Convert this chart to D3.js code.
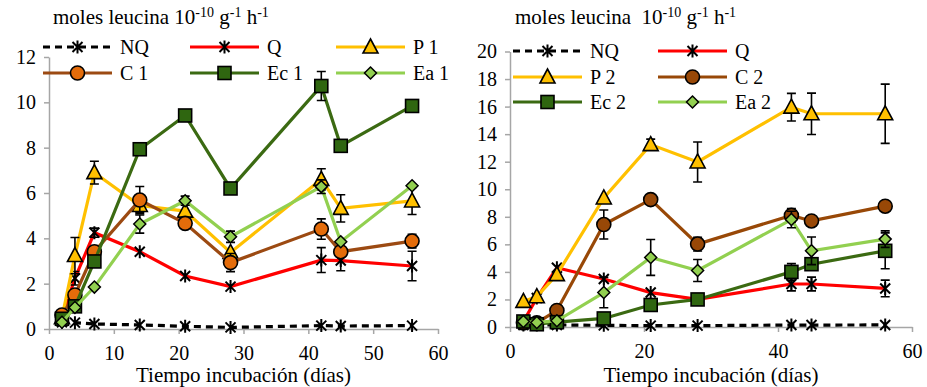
<!DOCTYPE html>
<html><head><meta charset="utf-8">
<script src="https://cdn.jsdelivr.net/npm/d3@7"></script>
<style>body{margin:0;background:#fff}svg{display:block}</style>
</head><body><svg id="c" width="927" height="387"></svg>
<script>
const days = [2,4,7,14,21,28,42,45,56];
const xTicks = [0,10,20,30,40,50,60];
const xTicksR = [0,20,40,60];
const yTicksL = [0,2,4,6,8,10,12];
const yTicksR = [0,2,4,6,8,10,12,14,16,18,20];

// left panel
const NQ1 = [0.30,0.28,0.22,0.18,0.12,0.07,0.15,0.13,0.15];
const Q1 = [0.50,2.24,4.25,3.41,2.34,1.87,3.04,3.02,2.78];
const Q1err = [0,0.3,0.2,0,0,0,0.55,0.45,0.65];
const P1 = [0.50,3.24,6.90,5.45,5.20,3.38,6.60,5.32,5.65];
const P1err = [0,0.8,0.5,0.3,0,0,0.47,0.6,0.6];
const C1 = [0.62,1.50,3.41,5.69,4.66,2.93,4.41,3.41,3.88];
const C1err = [0,0,0,0.6,0,0.4,0.45,0,0.3];
const Ec1 = [0.45,1.00,2.98,7.93,9.42,6.20,10.72,8.08,9.84];
const Ec1err = [0,0,0,0,0,0,0.64,0,0];
const Ea1 = [0.30,0.95,1.85,4.63,5.66,4.07,6.28,3.85,6.32];
const Ea1err = [0,0,0,0.4,0.2,0.25,0.3,0,0];

// right panel
const NQ2 = [0.15,0.15,0.15,0.12,0.10,0.10,0.14,0.14,0.15];
const Q2 = [0.40,2.10,4.30,3.48,2.50,2.00,3.12,3.12,2.80];
const Q2err = [0,0,0,0,0,0,0.5,0.5,0.6];
const P2 = [1.86,2.20,3.80,9.37,13.24,11.98,15.96,15.48,15.48];
const P2err = [0,0,0,0,0.4,1.45,1.0,1.5,2.15];
const C2 = [0.30,0.30,1.20,7.44,9.25,6.02,8.10,7.70,8.77];
const C2err = [0,0,0,1.05,0,0.5,0.5,0,0];
const Ec2 = [0.40,0.20,0.35,0.62,1.60,2.00,4.00,4.56,5.53];
const Ec2err = [0,0,0,0,0,0,0.6,0,1.3];
const Ea2 = [0.40,0.33,0.45,2.50,5.05,4.10,7.80,5.53,6.38];
const Ea2err = [0,0,0,1.1,1.3,0.8,0.6,1.0,0.6];

const FONT = "font-family:'Liberation Serif','DejaVu Serif','Times New Roman',serif";
const svg = d3.select("#c");

const styles = {
  NQ:{line:"#000",fill:"#000",marker:"star",dash:"7,5"},
  Q:{line:"#ff0000",fill:"#000",marker:"star"},
  P:{line:"#ffc000",fill:"#ffc000",marker:"tri"},
  C1:{line:"#9c4a12",fill:"#e46c0a",marker:"circ"},
  C2:{line:"#984807",fill:"#984807",marker:"circ"},
  Ec:{line:"#3b6a12",fill:"#2f6610",marker:"sq"},
  Ea:{line:"#92d050",fill:"#92d050",marker:"dia"}
};

function drawMarker(g, type, x, y, fill){
  if(type==="star"){
    g.append("path").attr("d",`M${x-5},${y-5}L${x+5},${y+5}M${x-5},${y+5}L${x+5},${y-5}M${x},${y-6.5}L${x},${y+6.5}`)
     .attr("stroke","#000").attr("stroke-width",2).attr("fill","none");
  } else if(type==="tri"){
    g.append("path").attr("d",`M${x},${y-8}L${x+7.5},${y+6}L${x-7.5},${y+6}Z`)
     .attr("fill",fill).attr("stroke","#000").attr("stroke-width",1.6);
  } else if(type==="circ"){
    g.append("circle").attr("cx",x).attr("cy",y).attr("r",7)
     .attr("fill",fill).attr("stroke","#000").attr("stroke-width",1.6);
  } else if(type==="sq"){
    g.append("rect").attr("x",x-6.5).attr("y",y-6.5).attr("width",13).attr("height",13)
     .attr("fill",fill).attr("stroke","#000").attr("stroke-width",1.6);
  } else if(type==="dia"){
    g.append("path").attr("d",`M${x},${y-6}L${x+6},${y}L${x},${y+6}L${x-6},${y}Z`)
     .attr("fill",fill).attr("stroke","#000").attr("stroke-width",1.5);
  }
}

function panel(cfg){
  const x = d3.scaleLinear().domain([0,60]).range(cfg.xr);
  const y = d3.scaleLinear().domain([0,cfg.ymax]).range(cfg.yr);
  const g = svg.append("g");
  const ya = g.append("g").attr("transform",`translate(${cfg.xr[0]},0)`)
    .call(d3.axisLeft(y).tickValues(cfg.yt).tickSize(5).tickSizeOuter(0).tickPadding(8));
  const xa = g.append("g").attr("transform",`translate(0,${cfg.yr[0]})`)
    .call(d3.axisBottom(x).tickValues(cfg.xt).tickSize(5).tickSizeOuter(0).tickPadding(8));
  [ya,xa].forEach(a=>{
    a.attr("font-family",null).attr("font-size",null);
    a.selectAll("path,line").attr("stroke","#a6a6a6").attr("stroke-width",1.5);
    a.selectAll("text").attr("style",FONT+";font-size:20px").attr("fill","#000");
  });
  xa.selectAll("text").attr("dy","0.9em");
  g.append("text").attr("x",(cfg.xr[0]+cfg.xr[1])/2).attr("y",382).attr("text-anchor","middle")
    .attr("style",FONT+";font-size:21px").text("Tiempo incubación (días)");
  // title
  const t = g.append("text").attr("x",cfg.tx).attr("y",24).attr("style",FONT+";font-size:21px");
  t.append("tspan").text(cfg.titleA);
  t.append("tspan").attr("style","font-size:14px").attr("dy",-7).text("-10");
  t.append("tspan").attr("dy",7).text(" g");
  t.append("tspan").attr("style","font-size:14px").attr("dy",-7).text("-1");
  t.append("tspan").attr("dy",7).text(" h");
  t.append("tspan").attr("style","font-size:14px").attr("dy",-7).text("-1");

  const line = d3.line().x((d,i)=>x(days[i])).y(d=>y(d));
  cfg.series.forEach(s=>{
    const st = styles[s.style];
    const sg = g.append("g");
    sg.append("path").datum(s.v).attr("d",line).attr("fill","none")
      .attr("stroke",st.line).attr("stroke-width",3.2)
      .attr("stroke-dasharray",st.dash||null);
    if(s.e){
      s.e.forEach((e,i)=>{
        if(!e) return;
        const cx = x(days[i]), y1 = y(s.v[i]-e), y2 = y(s.v[i]+e);
        sg.append("path").attr("d",`M${cx},${y1}L${cx},${y2}M${cx-4.5},${y1}L${cx+4.5},${y1}M${cx-4.5},${y2}L${cx+4.5},${y2}`)
          .attr("stroke","#000").attr("stroke-width",1.6).attr("fill","none");
      });
    }
    s.v.forEach((v,i)=>drawMarker(sg,st.marker,x(days[i]),y(v),st.fill));
  });
  // legend
  cfg.series.forEach((s,k)=>{
    const st = styles[s.style];
    const col = k % cfg.ncol, row = Math.floor(k / cfg.ncol);
    const lx = cfg.lx[col], ly = cfg.ly[row];
    const lg = g.append("g");
    lg.append("line").attr("x1",lx).attr("x2",lx+69).attr("y1",ly).attr("y2",ly)
      .attr("stroke",st.line).attr("stroke-width",3.2).attr("stroke-dasharray",st.dash||null);
    drawMarker(lg,st.marker,lx+34.5,ly,st.fill);
    lg.append("text").attr("x",lx+77).attr("y",ly).attr("dy","0.35em")
      .attr("style",FONT+";font-size:20px").text(s.name);
  });
}

panel({
  xr:[49,438], yr:[329,57], ymax:12, yt:yTicksL, xt:xTicks, tx:53,
  titleA:"moles leucina 10",
  ncol:3, lx:[43,190,336], ly:[47,73],
  series:[
    {name:"NQ",style:"NQ",v:NQ1},
    {name:"Q",style:"Q",v:Q1,e:Q1err},
    {name:"P 1",style:"P",v:P1,e:P1err},
    {name:"C 1",style:"C1",v:C1,e:C1err},
    {name:"Ec 1",style:"Ec",v:Ec1,e:Ec1err},
    {name:"Ea 1",style:"Ea",v:Ea1,e:Ea1err}
  ]
});
panel({
  xr:[510,912], yr:[327,51.5], ymax:20, yt:yTicksR, xt:xTicksR, tx:515,
  titleA:"moles leucina\u00a0 10",
  ncol:2, lx:[513,658], ly:[51,77,102],
  series:[
    {name:"NQ",style:"NQ",v:NQ2},
    {name:"Q",style:"Q",v:Q2,e:Q2err},
    {name:"P 2",style:"P",v:P2,e:P2err},
    {name:"C 2",style:"C2",v:C2,e:C2err},
    {name:"Ec 2",style:"Ec",v:Ec2,e:Ec2err},
    {name:"Ea 2",style:"Ea",v:Ea2,e:Ea2err}
  ]
});
</script></body></html>
